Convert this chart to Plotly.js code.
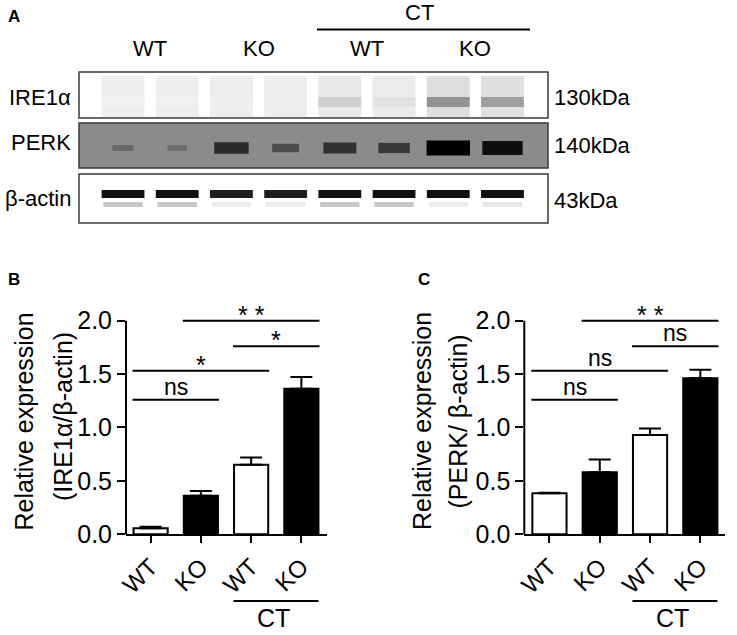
<!DOCTYPE html>
<html>
<head>
<meta charset="utf-8">
<script src="https://cdn.plot.ly/plotly-3.0.1.min.js"></script>
<style>
html,body{margin:0;padding:0;background:#fff;}
#chart{width:737px;height:635px;}
</style>
</head>
<body>
<div id="chart"></div>
<script>
// ---------- Data ----------
// Western blot (panel A): 8 lanes, relative band signal 0..1
const lanes = [1, 2, 3, 4, 5, 6, 7, 8];
const laneHeaders = ['WT', 'KO', 'WT', 'KO'];
const blotRows = ['IRE1α', 'PERK', 'β-actin'];
const blotMw = ['130kDa', '140kDa', '43kDa'];
const ire1Signal = [0.06, 0.06, 0.07, 0.07, 0.2, 0.12, 0.45, 0.4];
const perkSignal = [0.25, 0.2, 0.7, 0.45, 0.65, 0.6, 1.0, 0.9];
const actinSignal = [1, 1, 0.95, 0.95, 1, 1, 1, 1];
const actinLowerSignal = [0.35, 0.35, 0.12, 0.12, 0.35, 0.35, 0.12, 0.15];

// Quantification (panels B, C)
const groups = ['WT', 'KO', 'WT', 'KO'];
const ireValues = [0.056, 0.36, 0.65, 1.363];
const ireErrors = [0.015, 0.045, 0.07, 0.11];
const perkValues = [0.385, 0.58, 0.93, 1.46];
const perkErrors = [0.005, 0.12, 0.06, 0.08];
const groupFill = ['white', 'black', 'white', 'black'];
const yTicks = [0, 0.5, 1.0, 1.5, 2.0];
const yTickText = ['0.0', '0.5', '1.0', '1.5', '2.0'];

// Significance brackets
const ireSigFrom = [1, 2, 0, 0];
const ireSigTo = [3, 3, 2, 1];
const ireSigY = [2.0, 1.76, 1.53, 1.26];
const ireSigLabel = ['* *', '*', '*', 'ns'];
const perkSigFrom = [1, 2, 0, 0];
const perkSigTo = [3, 3, 2, 1];
const perkSigY = [2.0, 1.76, 1.53, 1.26];
const perkSigLabel = ['* *', 'ns', 'ns', 'ns'];

// ---------- Layout helpers ----------
const W = 737, H = 635;
const FONT = 'Arial, "Liberation Sans", sans-serif';
const px = v => v / W;
const py = v => 1 - v / H;
const gray = v => { const c = Math.max(0, Math.min(255, Math.round(v))); return 'rgb(' + c + ',' + c + ',' + c + ')'; };

const rangeB = [-0.49, 3.51];
const rangeC = [-0.5, 3.49];
const yRange = [0, 2.2];
const domFrac = (v, r) => (v - r[0]) / (r[1] - r[0]);

const traces = [];

// ---------- Blot traces (x3/y3, y in image rows) ----------
const laneW = 0.79;
// IRE1α lane smear
traces.push({
  type: 'bar', xaxis: 'x3', yaxis: 'y3', x: lanes,
  y: lanes.map(() => 41), base: lanes.map(() => 76), width: laneW,
  marker: {color: ire1Signal.map(s => gray(240 - 40 * s)), line: {width: 0}},
  hoverinfo: 'skip', showlegend: false
});
// IRE1α band
traces.push({
  type: 'bar', xaxis: 'x3', yaxis: 'y3', x: lanes,
  y: lanes.map(() => 10), base: lanes.map(() => 97), width: laneW,
  marker: {color: ire1Signal.map(s => gray(255 - 240 * s)), line: {width: 0}},
  hoverinfo: 'skip', showlegend: false
});
// PERK band
traces.push({
  type: 'bar', xaxis: 'x3', yaxis: 'y3', x: lanes,
  y: perkSignal.map(s => 3 + 12 * s), base: perkSignal.map(s => 148 - (3 + 12 * s) / 2),
  width: perkSignal.map(s => 0.25 + 0.55 * s),
  marker: {color: perkSignal.map(s => gray(138 * (1 - s))), line: {width: 0}},
  hoverinfo: 'skip', showlegend: false
});
// β-actin main band
traces.push({
  type: 'bar', xaxis: 'x3', yaxis: 'y3', x: lanes,
  y: lanes.map(() => 8), base: lanes.map(() => 190), width: laneW,
  marker: {color: actinSignal.map(s => gray(15 + 300 * (1 - s))), line: {width: 0}},
  hoverinfo: 'skip', showlegend: false
});
// β-actin lower faint band
traces.push({
  type: 'bar', xaxis: 'x3', yaxis: 'y3', x: lanes,
  y: lanes.map(() => 5), base: lanes.map(() => 202), width: laneW * 0.92,
  marker: {color: actinLowerSignal.map(s => gray(255 - 160 * s)), line: {width: 0}},
  hoverinfo: 'skip', showlegend: false
});

// ---------- Bar charts ----------
function barTrace(vals, errs, xa, ya) {
  return {
    type: 'bar', xaxis: xa, yaxis: ya, x: groups.map((g, i) => i), y: vals, width: 0.68,
    marker: {color: groupFill, line: {color: 'black', width: 2}},
    error_y: {type: 'data', symmetric: false, array: errs, arrayminus: errs.map(() => 0),
              color: 'black', thickness: 2, width: 11},
    hoverinfo: 'skip', showlegend: false
  };
}
traces.push(barTrace(ireValues, ireErrors, 'x', 'y'));
traces.push(barTrace(perkValues, perkErrors, 'x2', 'y2'));

function sigTrace(from, to, ys, xa, ya) {
  const xs = [], yv = [];
  from.forEach((f, i) => {
    xs.push(f - 0.36, to[i] + 0.36, null);
    yv.push(ys[i], ys[i], null);
  });
  return {type: 'scatter', mode: 'lines', xaxis: xa, yaxis: ya, x: xs, y: yv,
          line: {color: 'black', width: 2}, hoverinfo: 'skip', showlegend: false};
}
traces.push(sigTrace(ireSigFrom, ireSigTo, ireSigY, 'x', 'y'));
traces.push(sigTrace(perkSigFrom, perkSigTo, perkSigY, 'x2', 'y2'));

// ---------- Annotations ----------
const annotations = [];
const txt = (o) => annotations.push(Object.assign({showarrow: false, font: {family: FONT, size: 22, color: 'black'}}, o));

// Panel letters
const letterFont = {family: FONT, size: 17, color: 'black'};
txt({text: '<b>A</b>', xref: 'paper', yref: 'paper', x: px(6), y: py(16), xanchor: 'left', yanchor: 'middle', font: letterFont});
txt({text: '<b>B</b>', xref: 'paper', yref: 'paper', x: px(6), y: py(279), xanchor: 'left', yanchor: 'middle', font: letterFont});
txt({text: '<b>C</b>', xref: 'paper', yref: 'paper', x: px(416), y: py(279), xanchor: 'left', yanchor: 'middle', font: letterFont});

// Blot headers
laneHeaders.forEach((h, i) => txt({text: h, xref: 'x3', yref: 'paper', x: 2 * i + 1.5, y: py(48), xanchor: 'center', yanchor: 'middle'}));
txt({text: 'CT', xref: 'paper', yref: 'paper', x: px(420), y: py(13), xanchor: 'center', yanchor: 'middle'});
const rowY = [97, 143, 198];
const mwY = [97, 145, 200];
blotRows.forEach((r, i) => txt({text: r, xref: 'paper', yref: 'paper', x: px(73), y: py(rowY[i]), xanchor: 'right', yanchor: 'middle'}));
blotMw.forEach((r, i) => txt({text: r, xref: 'paper', yref: 'paper', x: px(552), y: py(mwY[i]), xanchor: 'left', yanchor: 'middle'}));

// Y-axis titles
const tf = {family: FONT, size: 25, color: 'black'};
txt({text: 'Relative expression', xref: 'paper', yref: 'paper', x: px(23), y: py(421.5), textangle: -90, xanchor: 'center', yanchor: 'middle', font: tf});
txt({text: '(IRE1α/β-actin)', xref: 'paper', yref: 'paper', x: px(62.5), y: py(416.5), textangle: -90, xanchor: 'center', yanchor: 'middle', font: tf});
txt({text: 'Relative expression', xref: 'paper', yref: 'paper', x: px(422), y: py(421), textangle: -90, xanchor: 'center', yanchor: 'middle', font: tf});
txt({text: '(PERK/ β-actin)', xref: 'paper', yref: 'paper', x: px(457), y: py(421.5), textangle: -90, xanchor: 'center', yanchor: 'middle', font: tf});

// Significance labels
function sigLabels(from, to, ys, labels, xa, ya) {
  labels.forEach((l, i) => {
    const star = l.indexOf('*') >= 0;
    txt({text: l, xref: xa, yref: ya, x: (from[i] + to[i]) / 2, y: ys[i], xanchor: 'center', yanchor: 'middle',
         yshift: star ? 6 : 13, font: {family: FONT, size: star ? 25 : 23, color: 'black'}});
  });
}
sigLabels(ireSigFrom, ireSigTo, ireSigY, ireSigLabel, 'x', 'y');
sigLabels(perkSigFrom, perkSigTo, perkSigY, perkSigLabel, 'x2', 'y2');

// CT group labels under charts
txt({text: 'CT', xref: 'x', yref: 'paper', x: 2.45, y: py(618), xanchor: 'center', yanchor: 'middle', font: tf});
txt({text: 'CT', xref: 'x2', yref: 'paper', x: 2.45, y: py(618), xanchor: 'center', yanchor: 'middle', font: tf});

// ---------- Shapes ----------
const shapes = [];
// blot boxes
const boxY = [[72, 118, 'white'], [123, 168, '#8b8b8b'], [174, 223, 'white']];
boxY.forEach(b => shapes.push({type: 'rect', xref: 'paper', yref: 'paper', x0: px(79), x1: px(548), y0: py(b[1]), y1: py(b[0]),
  fillcolor: b[2], line: {color: '#3a3a3a', width: 1.5}, layer: 'below'}));
// CT line above blot
shapes.push({type: 'line', xref: 'paper', yref: 'paper', x0: px(317), x1: px(530), y0: py(29.5), y1: py(29.5), line: {color: 'black', width: 2}});
// y-axis lines stopping at 2.0, and CT underline below each chart
[['x', 'y', rangeB], ['x2', 'y2', rangeC]].forEach(a => {
  shapes.push({type: 'line', xref: a[0] + ' domain', yref: a[1] + ' domain', x0: 0, x1: 0, y0: 0, y1: domFrac(2.0, yRange),
               line: {color: 'black', width: 2}});
  shapes.push({type: 'line', xref: a[0] + ' domain', yref: 'paper', x0: domFrac(1.65, a[2]), x1: domFrac(3.34, a[2]),
               y0: py(601), y1: py(601), line: {color: 'black', width: 2}});
});

// ---------- Axes ----------
const tickFont = {family: FONT, size: 25, color: 'black'};
function xAxis(dom, range) {
  return {domain: dom, range: range, showgrid: false, zeroline: false, showline: true, linecolor: 'black', linewidth: 2,
          ticks: 'outside', ticklen: 7, tickwidth: 2, tickcolor: 'black', tickvals: [0, 1, 2, 3], ticktext: groups,
          tickangle: -45, tickfont: {family: FONT, size: 24, color: 'black'}, fixedrange: true};
}
function yAxis(anchor) {
  return {domain: [py(534.3), py(299.3)], range: yRange, anchor: anchor, showgrid: false, zeroline: false, showline: false,
          ticks: 'outside', ticklen: 8, tickwidth: 2, tickcolor: 'black', tickvals: yTicks, ticktext: yTickText,
          tickfont: tickFont, fixedrange: true};
}

const layout = {
  width: W, height: H,
  margin: {l: 0, r: 0, t: 0, b: 0},
  paper_bgcolor: 'white', plot_bgcolor: 'rgba(0,0,0,0)',
  barmode: 'overlay', showlegend: false,
  font: {family: FONT, color: 'black'},
  xaxis: Object.assign(xAxis([px(126), px(327)], rangeB), {anchor: 'y'}),
  yaxis: yAxis('x'),
  xaxis2: Object.assign(xAxis([px(524.3), px(725)], rangeC), {anchor: 'y2'}),
  yaxis2: yAxis('x2'),
  xaxis3: {domain: [px(79), px(548)], range: [0.188, 8.84], anchor: 'y3', visible: false, fixedrange: true},
  yaxis3: {domain: [py(223), py(72)], range: [223, 72], anchor: 'x3', visible: false, fixedrange: true},
  annotations: annotations,
  shapes: shapes
};

Plotly.newPlot('chart', traces, layout, {displayModeBar: false, staticPlot: true});
</script>
</body>
</html>
